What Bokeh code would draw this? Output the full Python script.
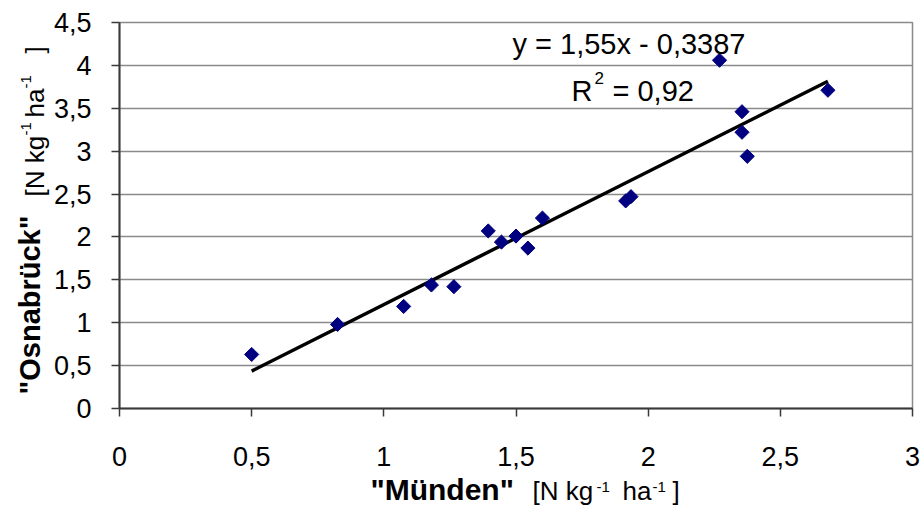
import numpy as np
from bokeh.plotting import figure
from bokeh.models import Range1d, FixedTicker
from bokeh.core.properties import value
from bokeh.embed import file_html
from bokeh.resources import INLINE

# ---- data ----
munden = [0.50, 0.825, 1.075, 1.18, 1.265, 1.395, 1.445, 1.50, 1.545, 1.60,
          1.915, 1.935, 2.27, 2.355, 2.355, 2.375, 2.68]
osnabrueck = [0.63, 0.98, 1.19, 1.44, 1.42, 2.07, 1.94, 2.01, 1.87, 2.22,
              2.42, 2.47, 4.06, 3.46, 3.22, 2.94, 3.71]
slope = 1.55
intercept = -0.3387
eq_text = "y = 1,55x - 0,3387"
r2_text = "= 0,92"
x_ticks = [0, 0.5, 1, 1.5, 2, 2.5, 3]
x_tick_labels = ["0", "0,5", "1", "1,5", "2", "2,5", "3"]
y_ticks = [0, 0.5, 1, 1.5, 2, 2.5, 3, 3.5, 4, 4.5]
y_tick_labels = ["0", "0,5", "1", "1,5", "2", "2,5", "3", "3,5", "4", "4,5"]

FONT = "Liberation Sans"
W, H = 922, 513
FL, FR, FT, FB = 119, 912, 22, 408  # frame edges in canvas pixels

p = figure(width=W, height=H, output_backend="svg", toolbar_location=None,
           x_range=Range1d(0, 3), y_range=Range1d(0, 4.5),
           min_border_left=FL, min_border_right=W - FR,
           min_border_top=FT, min_border_bottom=H - FB)
p.background_fill_color = "white"
p.border_fill_color = "white"
p.outline_line_color = "#8a8a8a"
p.outline_line_width = 1.5

p.xgrid.visible = False
p.ygrid.grid_line_color = "#8a8a8a"
p.ygrid.grid_line_width = 1.5

for ax, ticks, labels in ((p.xaxis[0], x_ticks, x_tick_labels), (p.yaxis[0], y_ticks, y_tick_labels)):
    ax.ticker = FixedTicker(ticks=ticks)
    ax.major_label_overrides = {t: l for t, l in zip(ticks, labels)}
    ax.minor_tick_line_color = None
    ax.major_tick_in = 0
    ax.major_tick_out = 8
    ax.axis_line_color = "#3a3a3a"
    ax.axis_line_width = 2
    ax.major_tick_line_color = "#3a3a3a"
    ax.major_tick_line_width = 1.5
    ax.major_label_text_font = FONT
    ax.major_label_text_font_size = "27px"
    ax.major_label_text_color = "black"
p.xaxis[0].major_label_standoff = 30
p.yaxis[0].major_label_standoff = 20

# trend line
xs = np.array([min(munden), max(munden)])
p.line(xs, slope * xs + intercept, line_color="black", line_width=3.5)

# data points (diamonds)
p.scatter(munden, osnabrueck, marker="square", angle=np.pi / 4, size=10,
          fill_color="#000080", line_color="#000080")

K = 0.40  # empirical baseline correction (fraction of font size)


def txt(text, X, Y, size, bold=False, angle=0.0):
    """Place text with its left/baseline at canvas pixel (X, Y); anchored at data origin."""
    if angle == 0.0:
        Y = Y - K * size
    else:
        X = X - K * size
    p.text(x=[0], y=[0], text=[text], x_offset=X - FL, y_offset=Y - FB,
           angle=angle, text_font=value(FONT), text_font_size=f"{size}px",
           text_font_style="bold" if bold else "normal",
           text_align="left", text_baseline="alphabetic",
           text_color="black", level="overlay")


# equation and R^2
txt(eq_text, 512, 55, 29)
txt("R", 571, 102, 29)
txt("2", 594, 84, 17)
txt(r2_text, 612, 102, 29)

# x-axis title
xb = 501
xs_b = xb - 9
txt('"Münden"', 370, xb, 30, bold=True)
txt("[N kg", 532, xb, 26)
txt("-1", 596, xs_b, 15)
txt("ha", 622, xb, 26)
txt("-1", 652, xs_b, 15)
txt("]", 672, xb, 26)

# y-axis title (rotated, reading upward); X is baseline, Y is start
yb_bold = 41
yb = 45
ys_b = 31
A = np.pi / 2
txt('"Osnabrück"', yb_bold, 394, 29, bold=True, angle=A)
txt("[N kg", yb, 196, 26, angle=A)
txt("-1", ys_b, 135, 15, angle=A)
txt("ha", yb, 117, 26, angle=A)
txt("-1", ys_b, 88, 15, angle=A)
txt("]", yb, 53, 26, angle=A)

open("out.html", "w").write(file_html(p, INLINE))
